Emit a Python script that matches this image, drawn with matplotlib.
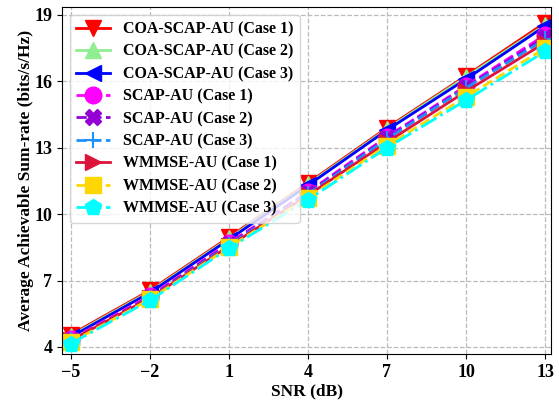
import matplotlib
matplotlib.use("Agg")
import matplotlib.pyplot as plt

snr = [-5, -2, 1, 4, 7, 10, 13]
coa1 = [4.55, 6.55, 8.95, 11.4, 13.9, 16.25, 18.65]
coa2 = [4.5, 6.5, 8.9, 11.35, 13.85, 16.2, 18.55]
coa3 = [4.45, 6.45, 8.85, 11.3, 13.8, 16.1, 18.5]
scap1 = [4.35, 6.3, 8.7, 11.0, 13.5, 15.8, 18.1]
scap2 = [4.3, 6.25, 8.65, 10.95, 13.45, 15.75, 18.0]
scap3 = [4.3, 6.2, 8.6, 10.9, 13.4, 15.7, 17.9]
wm1 = [4.3, 6.2, 8.55, 10.85, 13.25, 15.55, 17.75]
wm2 = [4.2, 6.15, 8.5, 10.75, 13.1, 15.3, 17.5]
wm3 = [4.15, 6.1, 8.45, 10.65, 13.0, 15.15, 17.35]
labels = ["COA-SCAP-AU (Case 1)", "COA-SCAP-AU (Case 2)", "COA-SCAP-AU (Case 3)",
          "SCAP-AU (Case 1)", "SCAP-AU (Case 2)", "SCAP-AU (Case 3)",
          "WMMSE-AU (Case 1)", "WMMSE-AU (Case 2)", "WMMSE-AU (Case 3)"]
xticks = [-5, -2, 1, 4, 7, 10, 13]
yticks = [4, 7, 10, 13, 16, 19]

plt.rcParams['font.family'] = ['Liberation Serif', 'DejaVu Serif']
plt.rcParams['font.weight'] = 'bold'

fig = plt.figure(figsize=(5.59, 4.0), dpi=100)
ax = fig.add_axes([0.111, 0.115, 0.875, 0.8675])

series = [coa1, coa2, coa3, scap1, scap2, scap3, wm1, wm2, wm3]
styles = [
    dict(color='red', ls='-', marker='v'),
    dict(color='lightgreen', ls='-', marker='^'),
    dict(color='blue', ls='-', marker='<'),
    dict(color='magenta', ls='--', marker='o'),
    dict(color='darkviolet', ls='--', marker='X'),
    dict(color='dodgerblue', ls='--', marker='+'),
    dict(color='crimson', ls='-', marker='>'),
    dict(color='gold', ls='--', marker='s'),
    dict(color='cyan', ls='-.', marker='p'),
]
for y, st, lab in zip(series, styles, labels):
    ax.plot(snr, y, color=st['color'], linestyle=st['ls'], marker=st['marker'],
            markersize=12, linewidth=2, label=lab, markeredgewidth=1.5 if st['marker'] == '+' else 1,
            markeredgecolor=st['color'])

ax.set_xlim(-5.33, 13.23)
ax.set_ylim(3.68, 19.36)
ax.set_xticks(xticks)
ax.set_yticks(yticks)
ax.set_xticklabels([str(t).replace('-', '\u2212') for t in xticks], fontsize=13, fontweight='bold')
ax.set_yticklabels([str(t) for t in yticks], fontsize=13, fontweight='bold')
ax.grid(True, linestyle='--', color='#bbbbbb', linewidth=0.9)
ax.set_xlabel('SNR (dB)', fontsize=12.5, fontweight='bold', labelpad=2)
ax.set_ylabel('Average Achievable Sum-rate (bits/s/Hz)', fontsize=12.5, fontweight='bold', labelpad=0.5)
ax.legend(loc='upper left', prop={'family': 'Liberation Serif', 'weight': 'bold', 'size': 11.5},
          handlelength=2.1, labelspacing=0.4, borderpad=0.4, framealpha=0.8, borderaxespad=0.5)

fig.savefig('out.png', dpi=100)
